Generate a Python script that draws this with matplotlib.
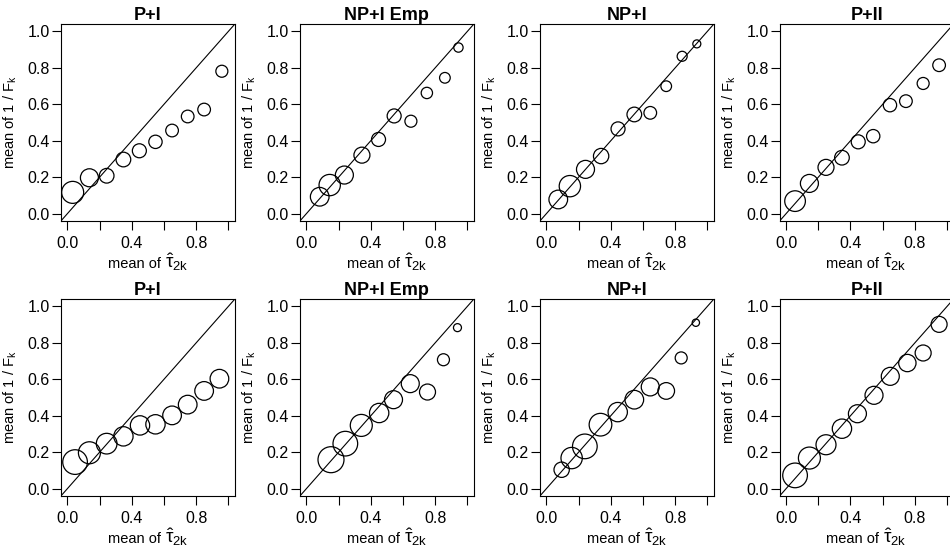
import matplotlib
matplotlib.use("Agg")
import matplotlib.pyplot as plt
from matplotlib.offsetbox import TextArea, HPacker, AnchoredOffsetbox

plt.rcParams['font.family'] = ['Liberation Sans', 'DejaVu Sans']
plt.rcParams['mathtext.fontset'] = 'custom'
plt.rcParams['mathtext.rm'] = 'Liberation Sans'
plt.rcParams['mathtext.it'] = 'Liberation Sans'
plt.rcParams['mathtext.bf'] = 'Liberation Sans:bold'

titles = ['P+I', 'NP+I Emp', 'NP+I', 'P+II']

# top row: mean of tau_hat_2k, mean of 1/F_k, relative circle size
x_top_pi = [0.033, 0.137, 0.244, 0.348, 0.447, 0.547, 0.650, 0.747, 0.849, 0.959]
y_top_pi = [0.117, 0.197, 0.208, 0.297, 0.345, 0.394, 0.456, 0.533, 0.571, 0.781]
n_top_pi = [33, 27, 22, 22, 21, 20, 19, 19, 19, 18]

x_top_npemp = [0.083, 0.145, 0.236, 0.345, 0.448, 0.545, 0.649, 0.748, 0.860, 0.944]
y_top_npemp = [0.093, 0.157, 0.212, 0.321, 0.407, 0.536, 0.507, 0.662, 0.745, 0.911]
n_top_npemp = [28, 32, 27, 24, 21, 21, 18, 17, 16, 14]

x_top_np = [0.074, 0.146, 0.243, 0.340, 0.445, 0.546, 0.645, 0.744, 0.843, 0.934]
y_top_np = [0.078, 0.151, 0.243, 0.316, 0.465, 0.544, 0.553, 0.699, 0.863, 0.931]
n_top_np = [28, 32, 27, 23, 21, 22, 19, 16, 15, 12]

x_top_pii = [0.056, 0.145, 0.248, 0.347, 0.448, 0.541, 0.645, 0.744, 0.851, 0.950]
y_top_pii = [0.069, 0.166, 0.254, 0.307, 0.394, 0.425, 0.595, 0.617, 0.714, 0.814]
n_top_pii = [31, 27, 24, 22, 21, 20, 20, 19, 18, 19]

# bottom row
x_bot_pi = [0.048, 0.137, 0.244, 0.348, 0.451, 0.547, 0.650, 0.747, 0.849, 0.944]
y_bot_pi = [0.146, 0.197, 0.247, 0.287, 0.347, 0.353, 0.402, 0.461, 0.536, 0.603]
n_bot_pi = [37, 33, 31, 29, 29, 29, 28, 28, 28, 28]

x_bot_npemp = [0.153, 0.242, 0.341, 0.452, 0.541, 0.645, 0.752, 0.851, 0.938]
y_bot_npemp = [0.159, 0.247, 0.347, 0.415, 0.488, 0.576, 0.530, 0.707, 0.883]
n_bot_npemp = [39, 37, 33, 29, 27, 27, 24, 18, 12]

x_bot_np = [0.095, 0.157, 0.239, 0.336, 0.443, 0.546, 0.645, 0.744, 0.837, 0.928]
y_bot_np = [0.104, 0.168, 0.232, 0.351, 0.420, 0.488, 0.558, 0.536, 0.717, 0.910]
n_bot_np = [23, 32, 37, 34, 29, 28, 27, 25, 18, 11]

x_bot_pii = [0.056, 0.145, 0.248, 0.347, 0.443, 0.546, 0.647, 0.753, 0.851, 0.950]
y_bot_pii = [0.073, 0.168, 0.241, 0.329, 0.411, 0.512, 0.616, 0.689, 0.744, 0.901]
n_bot_pii = [37, 33, 30, 29, 27, 27, 27, 26, 24, 24]

panels = [
    [(x_top_pi, y_top_pi, n_top_pi), (x_top_npemp, y_top_npemp, n_top_npemp),
     (x_top_np, y_top_np, n_top_np), (x_top_pii, y_top_pii, n_top_pii)],
    [(x_bot_pi, y_bot_pi, n_bot_pi), (x_bot_npemp, y_bot_npemp, n_bot_npemp),
     (x_bot_np, y_bot_np, n_bot_np), (x_bot_pii, y_bot_pii, n_bot_pii)],
]

W, H = 950, 554
fig = plt.figure(figsize=(W / 100, H / 100), dpi=100)

lefts = [60.9, 299.9, 539.9, 779.6]   # pixels
bottoms = [221, 496]                  # pixels from top
aw, ah = 174, 197

for r in range(2):
    for c in range(4):
        x, y, n = panels[r][c]
        ax = fig.add_axes([lefts[c] / W, (H - bottoms[r]) / H, aw / W, ah / H])
        ax.set_xlim(-0.04, 1.04)
        ax.set_ylim(-0.04, 1.04)
        ax.plot([-0.04, 1.04], [-0.04, 1.04], color='black', lw=0.8)
        ax.scatter(x, y, s=[(0.48 * v) ** 2 for v in n], facecolors='none',
                   edgecolors='black', linewidths=0.9, zorder=3)
        ax.set_xticks([0, 0.2, 0.4, 0.6, 0.8, 1.0])
        ax.set_xticklabels(['0.0', '', '0.4', '', '0.8', ''])
        ax.set_yticks([0, 0.2, 0.4, 0.6, 0.8, 1.0])
        ax.set_yticklabels(['0.0', '0.2', '0.4', '0.6', '0.8', '1.0'])
        ax.tick_params(direction='out', length=6.7, width=0.8, labelsize=11.5)
        ax.tick_params(axis='x', pad=4.0)
        ax.tick_params(axis='y', pad=1.2)
        for sp in ax.spines.values():
            sp.set_linewidth(0.8)
        ax.set_title(titles[c], fontsize=13, fontweight='bold', pad=3)
        ax.set_ylabel(r'mean of 1 / F$_{\mathrm{k}}$', fontsize=10.5)
        ax.yaxis.set_label_coords(-0.24, 0.5)

        # x label: plain text plus a larger math part, as R's plotmath draws it
        t1 = TextArea('mean of', textprops=dict(fontsize=10.5))
        t2 = TextArea(r'$\hat{\tau}_{2\mathrm{k}}$', textprops=dict(fontsize=13.5))
        box = HPacker(children=[t1, t2], align='baseline', pad=0, sep=3)
        anc = AnchoredOffsetbox(loc='upper center', child=box, frameon=False,
                                pad=0, borderpad=0,
                                bbox_to_anchor=(0.5, -0.155),
                                bbox_transform=ax.transAxes)
        ax.add_artist(anc)

fig.savefig('out.png', dpi=100)
